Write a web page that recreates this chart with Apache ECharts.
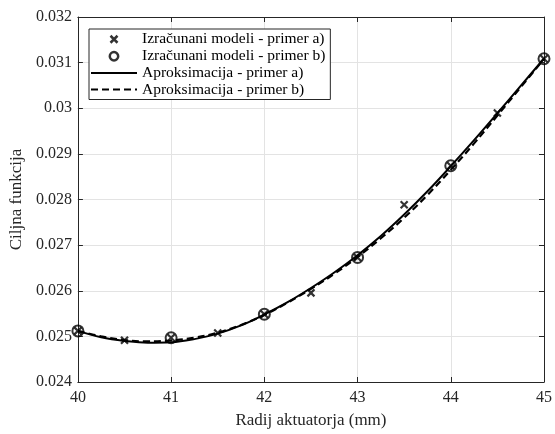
<!DOCTYPE html>
<html>
<head>
<meta charset="utf-8">
<script src="https://cdn.jsdelivr.net/npm/echarts@6/dist/echarts.min.js"></script>
<style>html,body{margin:0;padding:0;background:#fff;}#c{width:555px;height:434px;}</style>
</head>
<body>
<div id="c"></div>
<script>
// Computed model points
var pointXA = [40, 40.5, 41, 41.5, 42, 42.5, 43, 43.5, 44, 44.5, 45];
var pointYA = [0.02512, 0.024915, 0.02497, 0.025074, 0.025485, 0.025953, 0.02673, 0.027885, 0.02874, 0.029896, 0.031085];
var pointXB = [40, 41, 42, 43, 44, 45];
var pointYB = [0.02512, 0.02497, 0.025485, 0.02673, 0.02874, 0.031085];
// Approximation curves
var curveX = [40, 40.25, 40.5, 40.75, 41, 41.25, 41.5, 41.75, 42, 42.25, 42.5, 42.75, 43, 43.25, 43.5, 43.75, 44, 44.25, 44.5, 44.75, 45];
var curveA = [0.02512, 0.02498, 0.02490, 0.02486, 0.02487, 0.02494, 0.02506, 0.02524, 0.02548, 0.02575, 0.02606, 0.02640, 0.02678, 0.02720, 0.02767, 0.02818, 0.02873, 0.02930, 0.02989, 0.03049, 0.03109];
var curveB = [0.02512, 0.02500, 0.02492, 0.02489, 0.02491, 0.02497, 0.02508, 0.02525, 0.02547, 0.02574, 0.02604, 0.02637, 0.02674, 0.02715, 0.02760, 0.02810, 0.02865, 0.02923, 0.02984, 0.03046, 0.03108];
var xTicks = {min: 40, max: 45, interval: 1};
var yTicks = {min: 0.024, max: 0.032, interval: 0.001};
var seriesNames = ['Izračunani modeli - primer a)', 'Izračunani modeli - primer b)', 'Aproksimacija - primer a)', 'Aproksimacija - primer b)'];

function pairs(xs, ys) { return xs.map(function (x, i) { return [x, ys[i]]; }); }

var FONT = '"Liberation Serif", "Times New Roman", serif';
var AX = '#262626';
var crossPath = 'path://M0,0L10,10M10,0L0,10';
var crossLegend = 'path://M0,0M20,20M5,5L15,15M15,5L5,15';
var circleLegend = 'path://M0,0M20,20M10,4A6,6 0 1 1 9.99,4Z';
var hidden = {color: 'rgba(0,0,0,0)', borderColor: 'rgba(0,0,0,0)', borderWidth: 0, opacity: 0};

var chart = echarts.init(document.getElementById('c'), null, {renderer: 'canvas'});
var baseX = {
  type: 'value', min: xTicks.min, max: xTicks.max, interval: xTicks.interval,
  axisLine: {show: true, onZero: false, lineStyle: {color: AX, width: 1}},
  axisTick: {show: true, inside: true, length: 5, lineStyle: {color: AX}},
};
var baseY = {
  type: 'value', min: yTicks.min, max: yTicks.max, interval: yTicks.interval,
  axisLine: {show: true, onZero: false, lineStyle: {color: AX, width: 1}},
  axisTick: {show: true, inside: true, length: 5, lineStyle: {color: AX}},
};
chart.setOption({
  backgroundColor: '#fff',
  animation: false,
  grid: {left: 77, right: 9, top: 17, bottom: 47, containLabel: false},
  legend: {
    orient: 'vertical', left: 89, top: 29,
    padding: [2, 5, 2, 1], itemGap: 0.5,
    itemWidth: 46, itemHeight: 14,
    backgroundColor: '#fff', borderColor: AX, borderWidth: 1,
    textStyle: {fontFamily: FONT, fontSize: 15.5, color: '#000'},
    data: [
      {name: seriesNames[0], icon: crossLegend, itemStyle: {color: 'rgba(0,0,0,0)', borderColor: '#000', borderWidth: 2.5}},
      {name: seriesNames[1], icon: circleLegend, itemStyle: {color: 'rgba(0,0,0,0)', borderColor: '#000', borderWidth: 2.5}},
      {name: seriesNames[2], itemStyle: hidden},
      {name: seriesNames[3], itemStyle: hidden}
    ]
  },
  xAxis: [
    Object.assign({}, baseX, {
      position: 'bottom',
      splitLine: {show: true, lineStyle: {color: '#e3e3e3', width: 1}},
      axisLabel: {fontFamily: FONT, fontSize: 16, color: AX, margin: 8},
      name: 'Radij aktuatorja (mm)', nameLocation: 'middle', nameGap: 30,
      nameTextStyle: {fontFamily: FONT, fontSize: 17, color: AX}
    }),
    Object.assign({}, baseX, {position: 'top', splitLine: {show: false}, axisLabel: {show: false}})
  ],
  yAxis: [
    Object.assign({}, baseY, {
      position: 'left',
      splitLine: {show: true, lineStyle: {color: '#e3e3e3', width: 1}},
      axisLabel: {fontFamily: FONT, fontSize: 16, color: AX, margin: 6},
      name: 'Ciljna funkcija', nameLocation: 'middle', nameGap: 49,
      nameTextStyle: {fontFamily: FONT, fontSize: 17, color: AX}
    }),
    Object.assign({}, baseY, {position: 'right', splitLine: {show: false}, axisLabel: {show: false}})
  ],
  series: [
    {
      name: seriesNames[3], type: 'line', smooth: 0.4, showSymbol: false, symbol: 'none',
      data: pairs(curveX, curveB), z: 3,
      lineStyle: {color: '#000', width: 2.2, type: [7, 4]}, itemStyle: {color: '#000'}
    },
    {
      name: seriesNames[2], type: 'line', smooth: 0.4, showSymbol: false, symbol: 'none',
      data: pairs(curveX, curveA), z: 4,
      lineStyle: {color: '#000', width: 2}, itemStyle: {color: '#000'}
    },
    {
      name: seriesNames[0], type: 'scatter', symbol: crossPath, symbolSize: 7, z: 5,
      data: pairs(pointXA, pointYA),
      itemStyle: {color: 'rgba(0,0,0,0)', borderColor: '#000', borderWidth: 2.2}
    },
    {
      name: seriesNames[1], type: 'scatter', symbol: 'circle', symbolSize: 11, z: 6,
      data: pairs(pointXB, pointYB),
      itemStyle: {color: 'rgba(0,0,0,0)', borderColor: '#000', borderWidth: 2}
    }
  ]
});
</script>
</body>
</html>
